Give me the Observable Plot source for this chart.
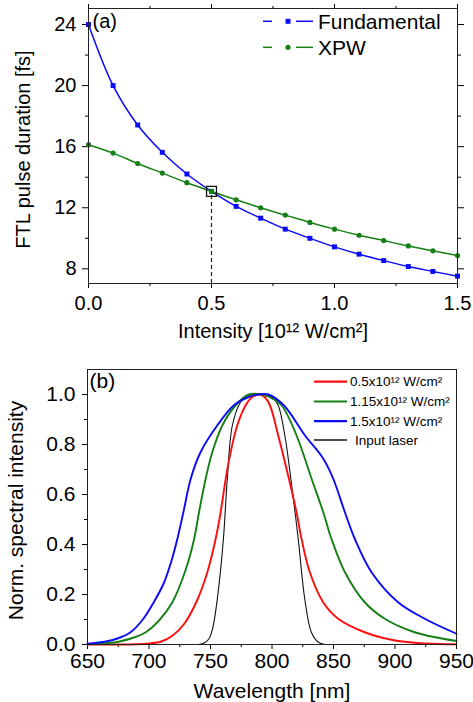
<!DOCTYPE html>
<html><head><meta charset="utf-8">
<script src="https://cdn.jsdelivr.net/npm/d3@7"></script>
<script src="https://cdn.jsdelivr.net/npm/@observablehq/plot@0.6"></script>
<style>
html,body{margin:0;padding:0;background:#fff;}
#wrap{width:473px;}
#wrap svg{display:block;}
</style></head><body><div id="wrap"></div>
<script>
// ---------- Panel (a) data ----------
const intensity = [0, 0.1, 0.2, 0.3, 0.4, 0.5, 0.6, 0.7, 0.8, 0.9, 1.0, 1.1, 1.2, 1.3, 1.4, 1.5];
const fundamental = [24.0, 20.0, 17.42, 15.63, 14.21, 13.07, 12.09, 11.32, 10.6, 10.0, 9.44, 8.96, 8.54, 8.15, 7.83, 7.52];
const xpw = [16.13, 15.58, 14.9, 14.27, 13.64, 13.07, 12.52, 12.0, 11.52, 11.04, 10.6, 10.2, 9.85, 9.5, 9.18, 8.87];
const intensityTicks = [0, 0.5, 1.0, 1.5];
const intensityMinor = [0.25, 0.75, 1.25];
const durationTicks = [8, 12, 16, 20, 24];
const durationMinor = [10, 14, 18, 22];
const durationDomain = [7.04, 25.05];
const seriesA = ["Fundamental", "XPW"];
const colorsA = ["#0a0af5", "#168016"];
const symbolsA = ["square", "circle"];
const crossIndex = 5;

// ---------- Panel (b) data ----------
const wl05 = [650, 690, 700, 710, 719, 729, 739.4, 747.5, 754.2, 758.3, 762.4, 766.4, 771.8, 778.6, 784, 790, 794, 798.3, 805, 813.7, 819.9, 824, 830.7, 841.6, 853.8, 875.4, 900, 925, 950];
const val05 = [0, 0.001, 0.004, 0.012, 0.035, 0.085, 0.18, 0.29, 0.423, 0.53, 0.664, 0.77, 0.877, 0.957, 0.99, 1.0, 0.99, 0.957, 0.837, 0.664, 0.53, 0.423, 0.29, 0.169, 0.103, 0.049, 0.016, 0.004, 0.001];
const wl115 = [650, 665, 676, 689, 697.4, 708, 719, 729.9, 736.6, 740.7, 746.1, 751.5, 759.7, 770.5, 781, 792, 798, 807.7, 819.9, 832.1, 841.6, 848.3, 859.2, 875.4, 891.7, 916, 950];
const val115 = [0.001, 0.005, 0.012, 0.03, 0.049, 0.095, 0.169, 0.30, 0.42, 0.53, 0.664, 0.77, 0.877, 0.957, 1.0, 1.0, 0.99, 0.957, 0.837, 0.664, 0.53, 0.423, 0.29, 0.169, 0.103, 0.049, 0.014];
const wl15 = [650, 665, 675, 685, 695, 704, 712, 718, 723.1, 728, 734, 742, 755.6, 769, 781, 789, 797, 809.6, 826.7, 841.6, 849.7, 859.2, 867.3, 880.8, 902.5, 924.2, 950];
const val15 = [0.003, 0.012, 0.025, 0.049, 0.1, 0.17, 0.245, 0.33, 0.423, 0.53, 0.664, 0.77, 0.877, 0.957, 0.99, 1.0, 1.0, 0.957, 0.837, 0.744, 0.664, 0.53, 0.423, 0.29, 0.169, 0.103, 0.043];
const wlInput = [740, 744, 748.8, 752, 756, 760.5, 763.7, 767.8, 774.5, 780, 785, 795, 800, 805, 810.4, 815.3, 821.3, 826.7, 832, 837.5, 842, 846];
const valInput = [0, 0.004, 0.023, 0.07, 0.2, 0.423, 0.664, 0.877, 0.97, 0.995, 1.0, 1.0, 0.99, 0.957, 0.837, 0.664, 0.423, 0.18, 0.049, 0.01, 0.001, 0];
const seriesB = ["0.5x10¹² W/cm²", "1.15x10¹² W/cm²", "1.5x10¹² W/cm²", "Input laser"];
const colorsB = ["#ff0d0d", "#168016", "#0a0af5", "#111111"];
const widthsB = [1.9, 1.9, 1.9, 1.1];
const wavelengthTicks = [650, 700, 750, 800, 850, 900, 950];
const wavelengthMinor = [675, 725, 775, 825, 875, 925];
const spectralTicks = [0, 0.2, 0.4, 0.6, 0.8, 1.0];
const spectralMinor = [0.1, 0.3, 0.5, 0.7, 0.9];
const spectralDomain = [0, 1.1];

const FONT = '"Liberation Sans", Arial, Helvetica, sans-serif';
const blank = () => "";

// ---------- Panel (a) ----------
const rowsA = [fundamental, xpw].map(vals => intensity.map((x, i) => ({x, y: vals[i]})));
const cross = {x: intensity[crossIndex], y: fundamental[crossIndex]};

const plotA = Plot.plot({
  width: 473, height: 345,
  marginLeft: 88, marginRight: 16, marginTop: 8, marginBottom: 62,
  style: {fontFamily: FONT, fontSize: "20px", background: "white", color: "black", overflow: "visible"},
  x: {domain: [0, 1.5], label: null},
  y: {domain: durationDomain, label: null},
  marks: [
    Plot.axisX({ticks: intensityTicks, anchor: "bottom", tickSize: 5, tickPadding: 7, tickFormat: d => d.toFixed(1), label: null, fontSize: 20}),
    Plot.axisX({ticks: intensityMinor, anchor: "bottom", tickSize: 3, tickFormat: blank, label: null}),
    Plot.axisX({ticks: intensityTicks, anchor: "top", tickSize: 5, tickFormat: blank, label: null}),
    Plot.axisX({ticks: intensityMinor, anchor: "top", tickSize: 3, tickFormat: blank, label: null}),
    Plot.axisY({ticks: durationTicks, anchor: "left", tickSize: 6, tickPadding: 6, label: null, fontSize: 20}),
    Plot.axisY({ticks: durationMinor, anchor: "left", tickSize: 3, tickFormat: blank, label: null}),
    Plot.axisY({ticks: durationTicks, anchor: "right", tickSize: 6, tickFormat: blank, label: null}),
    Plot.axisY({ticks: durationMinor, anchor: "right", tickSize: 3, tickFormat: blank, label: null}),
    Plot.ruleX([cross], {x: "x", y1: () => durationDomain[0], y2: "y", stroke: "#222", strokeWidth: 1.2, strokeDasharray: "4,3"}),
    ...rowsA.map((rows, k) => Plot.line(rows, {x: "x", y: "y", stroke: colorsA[k], strokeWidth: 1.5, curve: "catmull-rom"})),
    ...rowsA.map((rows, k) => Plot.dot(rows, {x: "x", y: "y", fill: colorsA[k], stroke: "none", symbol: symbolsA[k], r: symbolsA[k] === "square" ? 2.8 : 2.6})),
    Plot.dot([cross], {x: "x", y: "y", symbol: "square", r: 5.6, fill: "none", stroke: "#111", strokeWidth: 1.3}),
    Plot.frame({stroke: "#222", strokeWidth: 1}),
    Plot.text(["(a)"], {text: d => d, frameAnchor: "top-left", dx: 4, dy: 13, textAnchor: "start", lineAnchor: "middle", fontSize: 20}),
    Plot.text(["Intensity [10¹² W/cm²]"], {text: d => d, frameAnchor: "bottom", dy: 48, textAnchor: "middle", lineAnchor: "middle", fontSize: 20}),
    Plot.text(["FTL pulse duration [fs]"], {text: d => d, frameAnchor: "left", dx: -65, dy: 3.5, rotate: -90, textAnchor: "middle", lineAnchor: "middle", fontSize: 20})
  ]
});

// legend (a)
{
  const g = d3.select(plotA).append("g").attr("font-family", FONT).attr("font-size", 21).attr("text-anchor", "start");
  seriesA.forEach((name, i) => {
    const y = 21.3 + i * 26;
    g.append("line").attr("x1", 263).attr("x2", 272).attr("y1", y).attr("y2", y).attr("stroke", colorsA[i]).attr("stroke-width", 1.5);
    g.append("line").attr("x1", 296).attr("x2", 313).attr("y1", y).attr("y2", y).attr("stroke", colorsA[i]).attr("stroke-width", 1.5);
    const sym = symbolsA[i] === "square" ? d3.symbolSquare : d3.symbolCircle;
    g.append("path").attr("d", d3.symbol(sym, Math.PI * (symbolsA[i] === "square" ? 2.8 : 2.6) ** 2)()).attr("transform", `translate(288,${y})`).attr("fill", colorsA[i]);
    g.append("text").attr("x", 318).attr("y", y).attr("dy", "0.35em").attr("fill", "black").attr("text-anchor", "start").text(name);
  });
}
document.getElementById("wrap").appendChild(plotA);

// ---------- Panel (b) ----------
const rowsB = [[wl05, val05], [wl115, val115], [wl15, val15], [wlInput, valInput]]
  .map(([wl, v]) => wl.map((x, i) => ({x, y: v[i]})));
const drawOrder = [3, 0, 1, 2];

const plotB = Plot.plot({
  width: 473, height: 357,
  marginLeft: 87, marginRight: 17, marginTop: 24, marginBottom: 58,
  style: {fontFamily: FONT, fontSize: "21px", background: "white", color: "black", overflow: "visible"},
  x: {domain: [650, 950], label: null},
  y: {domain: spectralDomain, label: null},
  marks: [
    Plot.axisX({ticks: wavelengthTicks, anchor: "bottom", tickSize: 5, tickPadding: 4, tickFormat: d => String(d), label: null, fontSize: 21}),
    Plot.axisX({ticks: wavelengthMinor, anchor: "bottom", tickSize: 3, tickFormat: blank, label: null}),
    Plot.axisY({ticks: spectralTicks, anchor: "left", tickSize: 5, tickPadding: 7, tickFormat: d => d.toFixed(1), label: null, fontSize: 21}),
    Plot.axisY({ticks: spectralMinor, anchor: "left", tickSize: 3, tickFormat: blank, label: null}),
    ...drawOrder.map(k => Plot.line(rowsB[k], {x: "x", y: "y", stroke: colorsB[k], strokeWidth: widthsB[k], curve: "catmull-rom"})),
    Plot.frame({stroke: "#222", strokeWidth: 1}),
    Plot.text(["(b)"], {text: d => d, frameAnchor: "top-left", dx: 2, dy: 12, textAnchor: "start", lineAnchor: "middle", fontSize: 21}),
    Plot.text(["Wavelength [nm]"], {text: d => d, frameAnchor: "bottom", dy: 47, textAnchor: "middle", lineAnchor: "middle", fontSize: 21}),
    Plot.text(["Norm. spectral intensity"], {text: d => d, frameAnchor: "left", dx: -71, dy: 3.5, rotate: -90, textAnchor: "middle", lineAnchor: "middle", fontSize: 21})
  ]
});

// legend (b)
{
  const g = d3.select(plotB).append("g").attr("font-family", FONT).attr("font-size", 13.5).attr("text-anchor", "start");
  const rowY = [36.7, 56.5, 76.2, 95];
  seriesB.forEach((name, i) => {
    const y = rowY[i];
    g.append("line").attr("x1", 314).attr("x2", 347).attr("y1", y).attr("y2", y).attr("stroke", colorsB[i]).attr("stroke-width", widthsB[i] + 0.3);
    g.append("text").attr("x", i === 3 ? 355 : 350).attr("y", y).attr("dy", "0.35em").attr("fill", "black").attr("text-anchor", "start").text(name);
  });
}
document.getElementById("wrap").appendChild(plotB);
</script></body></html>
